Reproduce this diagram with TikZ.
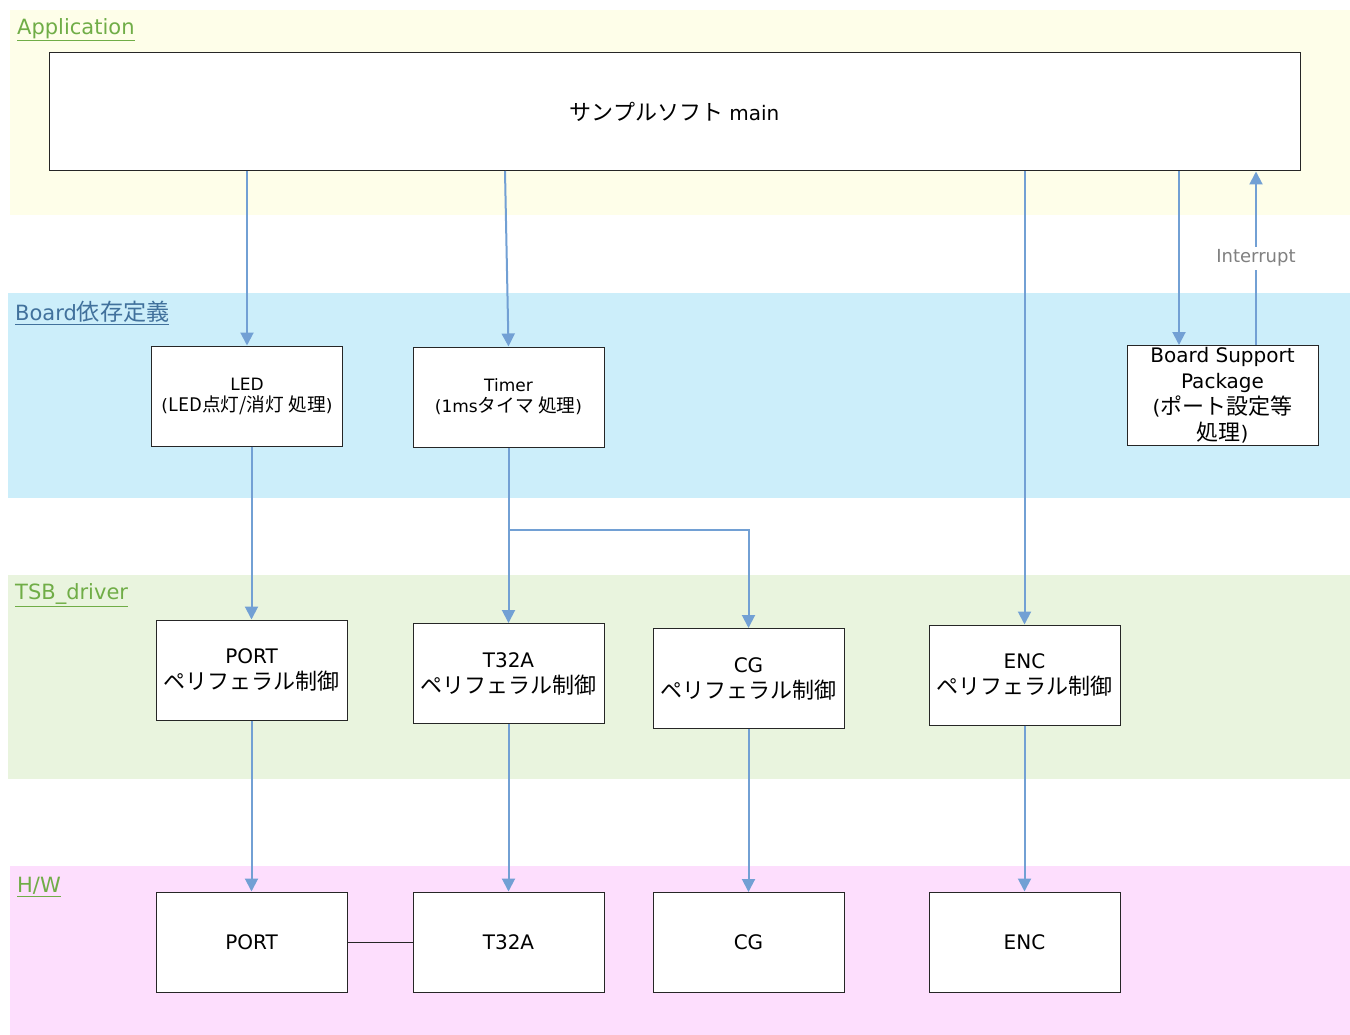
\documentclass[tikz,border=0pt]{standalone}
\usepackage{fontspec}
\setmainfont{DejaVu Sans}
\newfontfamily\jp{Noto Sans CJK JP}[Scale=1.1]
\usepackage{tikz}
\usetikzlibrary{arrows.meta,positioning}
\definecolor{appbg}{RGB}{254,254,233}
\definecolor{boardbg}{RGB}{204,238,250}
\definecolor{drvbg}{RGB}{233,244,222}
\definecolor{hwbg}{RGB}{253,222,253}
\definecolor{arrowblue}{RGB}{114,160,212}
\definecolor{labgreen}{RGB}{112,173,71}
\definecolor{labblue}{RGB}{65,113,156}

\begin{document}
\begin{tikzpicture}[x = 1pt, y = -1pt]
%\draw[very thin, color = gray](0, 0) grid[step = 50] (1350, 1035);
\tikzstyle{block} = [draw = black!85, line width = 1pt, fill = white, rectangle,
  minimum width = 191pt, minimum height = 100pt, inner sep = 0pt, align = center,
  font = \fontsize{20}{26}\selectfont];
\tikzstyle{small} = [font = \fontsize{17}{21}\selectfont]
\tikzstyle{layer} = [anchor = west, inner sep = 0pt, font = \fontsize{21}{24}\selectfont]
\tikzstyle{line} = [draw = arrowblue, line width = 2pt, -{Triangle[width = 13pt, length = 13pt]}]
\useasboundingbox (0, 0) rectangle (1350, 1035);
\fill [appbg] (10, 10) rectangle (1350, 215);
\fill [boardbg] (8, 293) rectangle (1350, 498);
\fill [drvbg] (8, 575) rectangle (1350, 779);
\fill [hwbg] (10, 866) rectangle (1350, 1035);
\node [layer, text = labgreen] at (17, 30) (app) {\underline{Application}};
\node [layer, text = labblue] at (15, 313) (board) {\underline{Board{\jp 依存定義}}};
\node [layer, text = labgreen] at (15, 595) (tsb) {\underline{TSB\_driver}};
\node [layer, text = labgreen] at (17, 887) (hw) {\underline{H/W}};
\node [block, minimum width = 1251pt, minimum height = 118pt] at (674.5, 112) (main) {{\jp サンプルソフト} main};
\node [block, small] at (247, 396) (led) {LED\\({\jp LED点灯/消灯 処理})};
\node [block, small] at (508.5, 397) (timer) {Timer\\(1ms{\jp タイマ 処理})};
\node [block] at (1222.5, 395.5) (bsp) {Board Support\\Package\\({\jp ポート設定等}\\{\jp 処理})};
\node [block] at (251.5, 670) (portdrv) {PORT\\{\jp ペリフェラル制御}};
\node [block] at (508.5, 673.5) (t32drv) {T32A\\{\jp ペリフェラル制御}};
\node [block] at (748.5, 678.5) (cgdrv) {CG\\{\jp ペリフェラル制御}};
\node [block] at (1024.5, 675) (encdrv) {ENC\\{\jp ペリフェラル制御}};
\node [block] at (251.5, 942) (porthw) {PORT};
\node [block] at (508.5, 942) (t32hw) {T32A};
\node [block] at (748.5, 942.5) (cghw) {CG};
\node [block] at (1024.5, 942) (enchw) {ENC};
\coordinate (tmain) at (505, 171);
\coordinate (split) at (509, 530);
\coordinate (bspin) at (1179, 345);
\coordinate (irq) at (1256, 345);
\path [line] (led |- main.south) -- (led.north);
\path [line] (tmain) -- (timer.north);
\path [line] (encdrv |- main.south) -- (encdrv.north);
\path [line] (bspin |- main.south) -- (bspin);
\path [line] (irq) -- (irq |- main.south)
  node [midway, fill = white, inner sep = 3pt, text = gray, font = \fontsize{18}{20}\selectfont] (irqlab) {Interrupt};
\path [line] (portdrv.north |- led.south) -- (portdrv.north);
\path [line] (timer.south) -- (t32drv.north);
\path [line] (split) -| (cgdrv.north);
\path [line] (portdrv) -- (porthw);
\path [line] (t32drv) -- (t32hw);
\path [line] (cgdrv) -- (cghw);
\path [line] (encdrv) -- (enchw);
\draw [line width = 1pt, black!85] (porthw) -- (t32hw);
\end{tikzpicture}
\end{document}
